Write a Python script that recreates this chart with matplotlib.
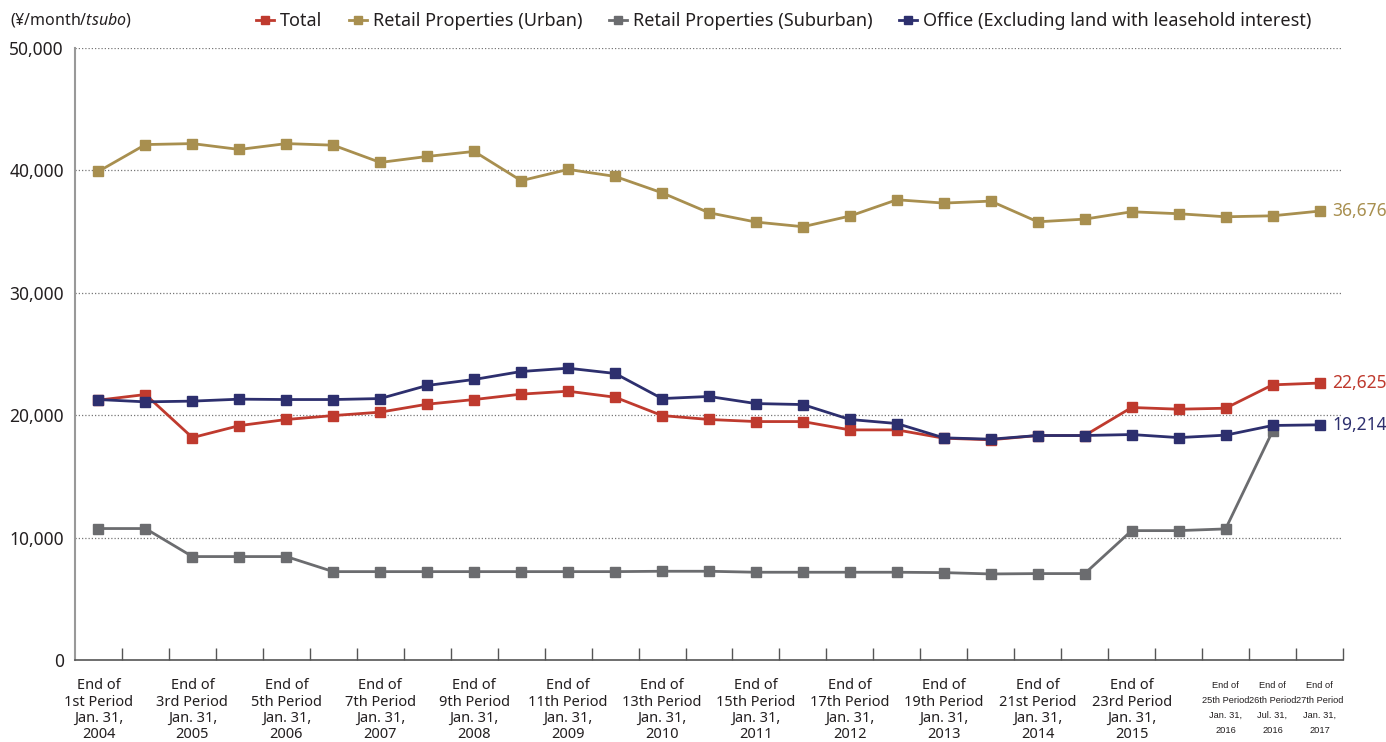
import matplotlib
matplotlib.use("Agg")
import matplotlib.pyplot as plt
from matplotlib import font_manager
import numpy as np

###############################################################################
## Data
###############################################################################

periods = ["1st", "2nd", "3rd", "4th", "5th", "6th", "7th", "8th", "9th",
           "10th", "11th", "12th", "13th", "14th", "15th", "16th", "17th",
           "18th", "19th", "20th", "21st", "22nd", "23rd", "24th", "25th",
           "26th", "27th"]

total = [21230, 21690, 18170, 19150, 19650, 19970, 20250, 20900, 21280,
         21720, 21960, 21470, 19970, 19650, 19480, 19480, 18800, 18800,
         18120, 17990, 18340, 18340, 20630, 20490, 20570, 22480, 22625]

urban = [39920, 42110, 42190, 41710, 42190, 42060, 40650, 41140, 41550,
         39160, 40080, 39510, 38170, 36540, 35780, 35400, 36270, 37600,
         37330, 37490, 35800, 36020, 36620, 36460, 36210, 36290, 36676]

suburban = [10740, 10740, 8450, 8450, 8450, 7220, 7220, 7220, 7220, 7220,
            7220, 7220, 7250, 7250, 7170, 7170, 7170, 7170, 7140, 7030,
            7060, 7060, 10570, 10570, 10710, 18690, np.nan]

office = [21280, 21090, 21150, 21310, 21280, 21280, 21360, 22430, 22920,
          23570, 23840, 23410, 21360, 21530, 20950, 20870, 19650, 19320,
          18150, 18040, 18340, 18340, 18420, 18170, 18370, 19160, 19214]

# x-axis labels: (index, label, small font?)
tick_labels = [
    (0, "End of\n1st Period\nJan. 31,\n2004", False),
    (2, "End of\n3rd Period\nJan. 31,\n2005", False),
    (4, "End of\n5th Period\nJan. 31,\n2006", False),
    (6, "End of\n7th Period\nJan. 31,\n2007", False),
    (8, "End of\n9th Period\nJan. 31,\n2008", False),
    (10, "End of\n11th Period\nJan. 31,\n2009", False),
    (12, "End of\n13th Period\nJan. 31,\n2010", False),
    (14, "End of\n15th Period\nJan. 31,\n2011", False),
    (16, "End of\n17th Period\nJan. 31,\n2012", False),
    (18, "End of\n19th Period\nJan. 31,\n2013", False),
    (20, "End of\n21st Period\nJan. 31,\n2014", False),
    (22, "End of\n23rd Period\nJan. 31,\n2015", False),
    (24, "End of\n25th Period\nJan. 31,\n2016", True),
    (25, "End of\n26th Period\nJul. 31,\n2016", True),
    (26, "End of\n27th Period\nJan. 31,\n2017", True),
]

series = [
    ("Total", total, "#bf3a2e"),
    ("Retail Properties (Urban)", urban, "#a88f4f"),
    ("Retail Properties (Suburban)", suburban, "#6b6c6f"),
    ("Office (Excluding land with leasehold interest)", office, "#2d2f6e"),
]

###############################################################################
## Plot
###############################################################################

plt.rcParams['font.family'] = ['Noto Sans', 'DejaVu Sans']
plt.rcParams['mathtext.fontset'] = 'custom'
plt.rcParams['mathtext.it'] = 'Noto Sans:italic'
plt.rcParams['mathtext.rm'] = 'Noto Sans'

# pick a narrow font for the crowded last three labels
names = {f.name for f in font_manager.fontManager.ttflist}
if 'Liberation Sans Narrow' in names:
    narrow_family, narrow_size, narrow_ls = 'Liberation Sans Narrow', 8.0, 1.55
else:
    narrow_family, narrow_size, narrow_ls = 'Liberation Sans', 6.7, 1.85

txt_col = "#231f20"

fig = plt.figure(figsize=(13.86, 7.42), dpi=100)
ax = fig.add_axes([75/1386, 1-660/742, 1268/1386, 612/742])

x = np.arange(len(periods))
for name, vals, col in series:
    ax.plot(x, vals, '-', color=col, linewidth=2.0, marker='s',
            markersize=7.5, label=name, zorder=3)

ax.set_xlim(-0.5, 26.5)
ax.set_ylim(0, 50000)

# grid lines
for yv in range(10000, 50001, 10000):
    ax.axhline(yv, color="#777777", linestyle=(0, (1, 1.6)), linewidth=0.9,
               zorder=1)

ax.set_yticks(range(0, 50001, 10000))
ax.set_yticklabels([f"{v:,}" for v in range(0, 50001, 10000)],
                   fontsize=12.5, color=txt_col)
ax.tick_params(axis='y', length=0, pad=8)

# x ticks at boundaries, pointing inward
ax.set_xticks(np.arange(0.5, 26.6, 1.0))
ax.set_xticklabels([])
ax.tick_params(axis='x', direction='in', length=9, width=1.0,
               color="#555555")

for side in ['top', 'right']:
    ax.spines[side].set_visible(False)
ax.spines['left'].set_color("#999999")
ax.spines['left'].set_linewidth(1.5)
ax.spines['bottom'].set_color("#555555")
ax.spines['bottom'].set_linewidth(1.2)

# category labels
for idx, lab, small in tick_labels:
    if small:
        ax.text(idx, -0.034, lab, transform=ax.get_xaxis_transform(),
                ha='center', va='top', fontsize=narrow_size, color=txt_col,
                family=narrow_family, linespacing=narrow_ls)
    else:
        ax.text(idx, -0.03, lab, transform=ax.get_xaxis_transform(),
                ha='center', va='top', fontsize=10.5, color=txt_col,
                linespacing=1.12)

# end value labels
for name, vals, col in series:
    if not np.isnan(vals[-1]):
        ax.text(26 + 0.27, vals[-1], f"{vals[-1]:,}", color=col,
                fontsize=12.5, ha='left', va='center', clip_on=False)

# unit label
fig.text(10/1386, 1-20/742, r"(¥/month/$\it{tsubo}$)", fontsize=11.5,
         color=txt_col, ha='left', va='center')

leg = fig.legend(loc='center left', bbox_to_anchor=(256/1386, 1-21/742),
                 ncol=4, frameon=False, fontsize=13, handlelength=1.0,
                 handletextpad=0.35, columnspacing=1.45, borderpad=0,
                 borderaxespad=0, markerscale=0.75)
for t in leg.get_texts():
    t.set_color(txt_col)

fig.savefig("out.png", dpi=100)
